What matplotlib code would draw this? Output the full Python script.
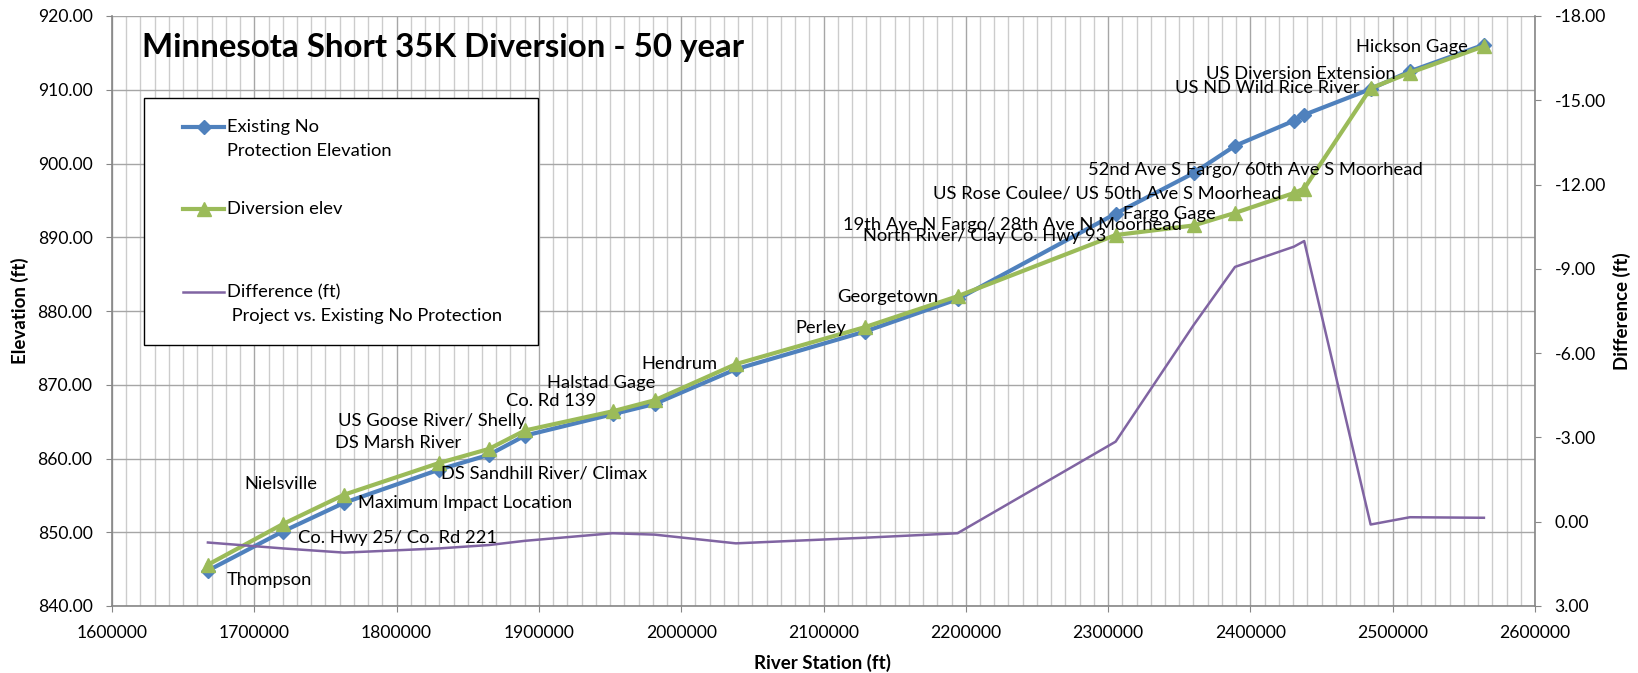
import matplotlib
matplotlib.use("Agg")
import matplotlib.pyplot as plt
from matplotlib.ticker import MultipleLocator, FormatStrFormatter
from matplotlib.patches import Rectangle
from matplotlib.lines import Line2D

# river station (ft) and water surface elevations (ft)
station = [1667400, 1720000, 1763200, 1830000, 1864900, 1890200, 1951800, 1981400,
           2038400, 2128900, 2194200, 2305300, 2360100, 2389200, 2430600, 2437800,
           2484500, 2512100, 2564100]
existing = [844.8, 850.1, 854.0, 858.5, 860.5, 863.1, 866.0, 867.4, 872.1, 877.2,
            881.6, 893.2, 898.7, 902.4, 905.8, 906.6, 910.1, 912.5, 916.1]
diversion = [845.6, 851.1, 855.1, 859.4, 861.3, 863.8, 866.4, 867.9, 872.8, 877.8,
             882.0, 890.3, 891.6, 893.3, 896.0, 896.6, 910.2, 912.3, 915.9]
difference = [0.74, 0.95, 1.10, 0.95, 0.83, 0.68, 0.41, 0.46, 0.77, 0.57, 0.41,
              -2.85, -7.0, -9.07, -9.79, -9.99, 0.10, -0.16, -0.14]

location_names = ["Thompson", "Nielsville", "Co. Hwy 25/ Co. Rd 221", "Maximum Impact Location",
                  "DS Sandhill River/ Climax", "DS Marsh River", "US Goose River/ Shelly",
                  "Co. Rd 139", "Halstad Gage", "Hendrum", "Perley", "Georgetown",
                  "19th Ave N Fargo/ 28th Ave N Moorhead", "North River/ Clay Co. Hwy 93",
                  "Fargo Gage", "US Rose Coulee/ US 50th Ave S Moorhead",
                  "52nd Ave S Fargo/ 60th Ave S Moorhead", "US ND Wild Rice River",
                  "US Diversion Extension", "Hickson Gage"]

# where the data labels sit (left edge, centre) in data units
label_xy = [(1680400, 843.5), (1693000, 856.5), (1730800, 849.2), (1772800, 854.0),
            (1831200, 857.9), (1756400, 862.1), (1759000, 865.1), (1876900, 867.8),
            (1905700, 870.2), (1971700, 872.8), (2080100, 877.7), (2109700, 881.9),
            (2113800, 891.7), (2127700, 890.2), (2310400, 893.2), (2177300, 895.9),
            (2285800, 899.1), (2346700, 910.2), (2368800, 912.1), (2473900, 915.8)]

BLUE = "#4F81BD"
GREEN = "#9BBB59"
PURPLE = "#8064A2"
AXCOL = "#868686"

W, H = 1638, 673
plt.rcParams['font.family'] = ['Lato', 'DejaVu Sans']
FS = 13.2      # data labels / legend
TFS = 12.6     # tick labels

fig = plt.figure(figsize=(W / 100, H / 100), dpi=100)

def fx(px):
    return px / W

def fy(py):
    return 1 - py / H

ax = fig.add_axes([fx(112), fy(606), fx(1535) - fx(112), fy(16) - fy(606)])
ax2 = ax.twinx()

ax.set_xlim(1600000, 2600000)
ax.set_ylim(840, 920)
ax2.set_ylim(3, -18)

ax.xaxis.set_major_locator(MultipleLocator(100000))
ax.xaxis.set_minor_locator(MultipleLocator(10000))
ax.yaxis.set_major_locator(MultipleLocator(10))
ax2.yaxis.set_major_locator(MultipleLocator(3))
ax.yaxis.set_major_formatter(FormatStrFormatter('%.2f'))
ax2.yaxis.set_major_formatter(FormatStrFormatter('%.2f'))
ax.xaxis.set_major_formatter(FormatStrFormatter('%d'))

ax.grid(which='major', axis='x', color='#a6a6a6', lw=1)
ax.grid(which='minor', axis='x', color='#cccccc', lw=1)
ax.grid(which='major', axis='y', color='#a6a6a6', lw=1)
ax.set_axisbelow(True)

for a in (ax, ax2):
    for s in a.spines.values():
        s.set_visible(False)
ax.spines['left'].set_visible(True)
ax.spines['bottom'].set_visible(True)
ax2.spines['right'].set_visible(True)
for s in (ax.spines['left'], ax.spines['bottom'], ax2.spines['right']):
    s.set_color(AXCOL)
    s.set_linewidth(1.2)

ax.tick_params(axis='both', which='major', direction='out', length=4, color=AXCOL,
               labelsize=TFS, pad=10)
ax.tick_params(axis='x', which='minor', length=0)
ax2.tick_params(axis='y', direction='out', length=4, color=AXCOL, labelsize=TFS, pad=10)

ax.plot(station, existing, color=BLUE, lw=3, marker='D', ms=7, zorder=3)
ax.plot(station, diversion, color=GREEN, lw=3, marker='^', ms=10, zorder=4)
ax2.plot(station, difference, color=PURPLE, lw=1.8)

for name, (lx, ly) in zip(location_names, label_xy):
    ax.text(lx, ly, name, fontsize=FS, ha='left', va='center', color='black', zorder=5)

fig.text(fx(142), fy(47), "Minnesota Short 35K Diversion - 50 year", fontsize=23.8,
         fontweight='bold', ha='left', va='center')
fig.text(fx(20), fy(311), "Elevation (ft)", fontsize=13.5, fontweight='bold',
         rotation=90, ha='center', va='center')
fig.text(fx(823), fy(663), "River Station (ft)", fontsize=13.5, fontweight='bold',
         ha='center', va='center')
fig.text(fx(1622), fy(311), "Difference (ft)", fontsize=13.5, fontweight='bold',
         rotation=90, ha='center', va='center')

# legend box drawn like the excel one
fig.patches.append(Rectangle((fx(144), fy(345)), fx(538) - fx(144), fy(98) - fy(345),
                             transform=fig.transFigure, facecolor='white',
                             edgecolor='black', lw=1, zorder=10))
legend_rows = [(BLUE, 'D', 7, 3, 127, ["Existing No", "Protection Elevation"]),
               (GREEN, '^', 10, 3, 209, ["Diversion elev"]),
               (PURPLE, None, 0, 1.8, 292, ["Difference (ft)", " Project vs. Existing No Protection"])]
for col, mk, ms, lw, yy, lines in legend_rows:
    fig.lines.append(Line2D([fx(183), fx(224)], [fy(yy), fy(yy)], transform=fig.transFigure,
                            color=col, lw=lw, zorder=11))
    if mk:
        fig.lines.append(Line2D([fx(203.5)], [fy(yy)], transform=fig.transFigure, color=col,
                                marker=mk, ms=ms, zorder=12))
    for i, t in enumerate(lines):
        fig.text(fx(227), fy(yy + i * 24.5), t, fontsize=FS, ha='left', va='center', zorder=13)

fig.savefig("out.png", dpi=100)
